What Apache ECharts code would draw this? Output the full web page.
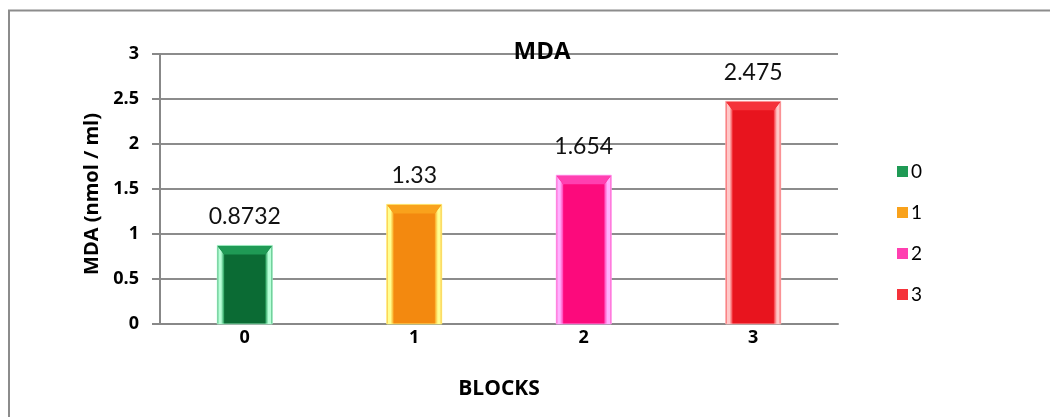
<!DOCTYPE html>
<html>
<head>
<meta charset="utf-8">
<script src="https://cdn.jsdelivr.net/npm/echarts@6/dist/echarts.min.js"></script>
<style>
  html, body { margin: 0; padding: 0; background: #fff; }
  #chart { width: 1050px; height: 417px; }
</style>
</head>
<body>
<div id="chart"></div>
<script>
// MDA concentration by block
const categories = ['0', '1', '2', '3'];
const mdaValues = [0.8732, 1.33, 1.654, 2.475];
const yTicks = [0, 0.5, 1, 1.5, 2, 2.5, 3];

// bevelled bar palettes: [face, bevel, highlight]
const palettes = [
  ['#0b6b34', '#1f9a55', '#b8ffd8'],
  ['#f3890f', '#f9a21c', '#ffff90'],
  ['#fc0a7c', '#ff3fb0', '#ffb0ff'],
  ['#e8141e', '#f5323a', '#ffc8c8']
];

const FONT = 'Lato, "Open Sans", sans-serif';
const BOLD_FONT = '"Open Sans", Lato, sans-serif';

function bevelBar(pal) {
  return function (params, api) {
    const idx = api.value(0);
    const val = api.value(1);
    const base = api.coord([idx, 0]);
    const top = api.coord([idx, val]);
    const w = api.size([1, 0])[0] * 0.325;
    const x0 = base[0] - w / 2, x1 = base[0] + w / 2;
    const y0 = top[1], y1 = base[1];
    const b = 7;
    const sideGrad = (fromLeft) => new echarts.graphic.LinearGradient(fromLeft ? 0 : 1, 0, fromLeft ? 1 : 0, 0, [
      { offset: 0, color: pal[1] },
      { offset: 0.25, color: pal[2] },
      { offset: 0.55, color: pal[2] },
      { offset: 1, color: pal[1] }
    ]);
    return {
      type: 'group',
      children: [
        { type: 'rect', shape: { x: x0, y: y0, width: w, height: y1 - y0 }, style: { fill: pal[0] } },
        { type: 'polygon', shape: { points: [[x0, y0], [x0 + b, y0 + b * 1.3], [x0 + b, y1], [x0, y1]] },
          style: { fill: sideGrad(true) } },
        { type: 'polygon', shape: { points: [[x1, y0], [x1 - b, y0 + b * 1.3], [x1 - b, y1], [x1, y1]] },
          style: { fill: sideGrad(false) } },
        { type: 'polygon', shape: { points: [[x0, y0], [x1, y0], [x1 - b, y0 + b * 1.3], [x0 + b, y0 + b * 1.3]] },
          style: { fill: pal[1] } },
        { type: 'rect', shape: { x: x0, y: y0, width: w, height: y1 - y0 },
          style: { fill: 'none', stroke: pal[2], lineWidth: 1, opacity: 0.8 } },
        { type: 'text', x: base[0], y: y0 - 29,
          style: { text: String(val), align: 'center', verticalAlign: 'middle',
                   font: '23px ' + FONT, fill: '#111' } }
      ]
    };
  };
}

const series = categories.map((c, i) => ({
  type: 'custom',
  name: c,
  itemStyle: { color: palettes[i][1] },
  renderItem: bevelBar(palettes[i]),
  encode: { x: 0, y: 1 },
  data: [[i, mdaValues[i]]],
  z: 3
}));

const chart = echarts.init(document.getElementById('chart'), null, { renderer: 'canvas' });
chart.setOption({
  animation: false,
  backgroundColor: '#fff',
  title: {
    text: 'MDA', left: 537, top: 35, textAlign: 'center',
    textStyle: { fontFamily: BOLD_FONT, fontWeight: 'bold', fontSize: 24, color: '#000' }
  },
  graphic: [{
    type: 'rect', z: 100, silent: true,
    shape: { x: 9, y: 10.5, width: 1080, height: 450 },
    style: { fill: 'none', stroke: '#8c8c8c', lineWidth: 2 }
  }],
  legend: {
    orient: 'vertical', left: 892, top: 157, itemGap: 22,
    itemWidth: 11, itemHeight: 11, icon: 'rect',
    textStyle: { fontFamily: FONT, fontSize: 19, color: '#000', padding: [0, 0, 0, -2] },
    data: categories
  },
  grid: { left: 160, right: 212, top: 54, bottom: 93 },
  xAxis: {
    type: 'category', data: categories,
    name: 'BLOCKS', nameLocation: 'middle', nameGap: 55,
    nameTextStyle: { fontFamily: BOLD_FONT, fontWeight: 'bold', fontSize: 21, color: '#000' },
    axisLine: { lineStyle: { color: '#888', width: 2 } },
    axisTick: { show: false },
    axisLabel: { fontFamily: BOLD_FONT, fontWeight: 'bold', fontSize: 18, color: '#000', margin: 5 }
  },
  yAxis: {
    type: 'value', min: 0, max: 3, interval: 0.5,
    name: 'MDA (nmol / ml)', nameLocation: 'middle', nameGap: 58, nameRotate: 90,
    nameTextStyle: { fontFamily: BOLD_FONT, fontWeight: 'bold', fontSize: 20, color: '#000',
                     padding: [0, 10, 0, 0] },
    axisLine: { show: true, lineStyle: { color: '#888', width: 2 } },
    axisTick: { show: true, inside: false, length: 8, lineStyle: { color: '#888', width: 2 } },
    splitLine: { lineStyle: { color: '#8c8c8c', width: 2 } },
    axisLabel: {
      fontFamily: BOLD_FONT, fontWeight: 'bold', fontSize: 18, color: '#000', margin: 21,
      formatter: (v) => yTicks.includes(v) ? String(v) : ''
    }
  },
  series: series
});
</script>
</body>
</html>
